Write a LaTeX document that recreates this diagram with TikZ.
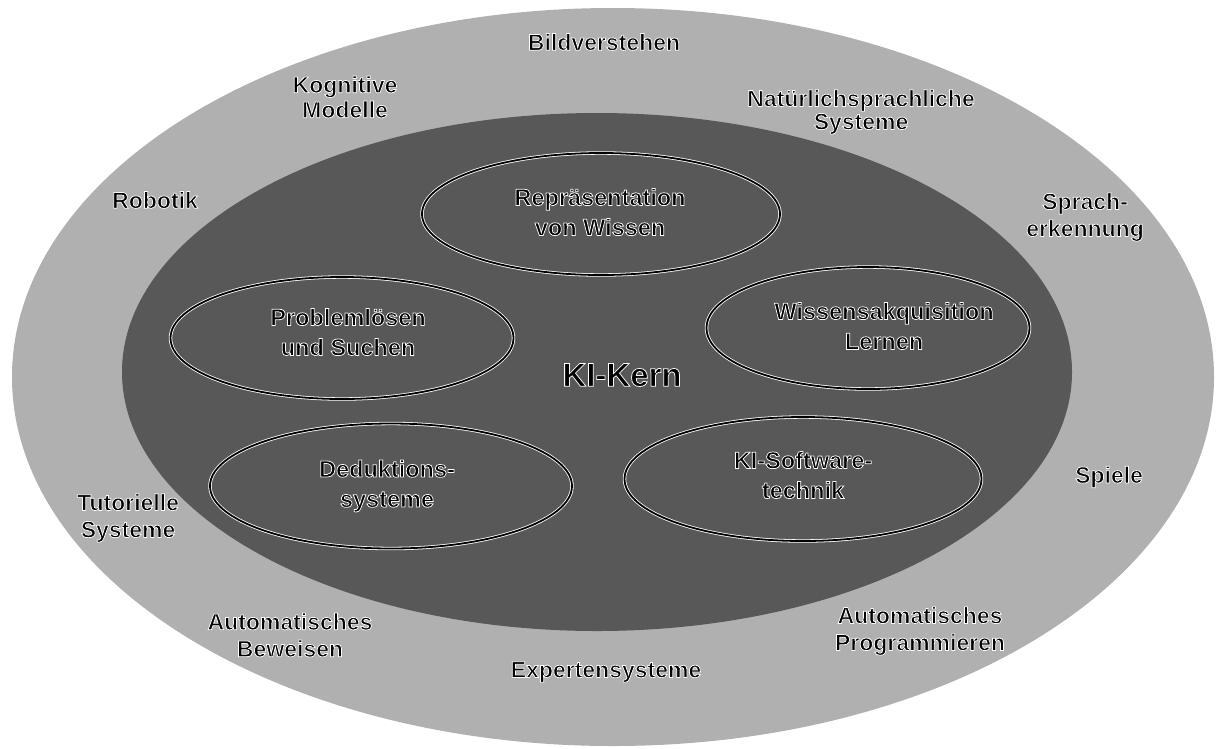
\documentclass[tikz,border=0pt]{standalone}
\usepackage{fontspec}
\setmainfont{Liberation Sans}[BoldFont={Liberation Sans Bold}]
\usetikzlibrary{shapes.geometric}
\definecolor{outergray}{RGB}{176,176,176}
\definecolor{innergray}{RGB}{88,88,88}
% black letters with a thin white halo (fill + white stroke), one copy of each text
\newcommand{\hl}[1]{\special{pdf:literal direct 2 Tr 1 1 1 RG 0.75 w}#1\special{pdf:literal direct 0 Tr 0 0 0 RG}}
\tikzset{
  area/.style={ellipse, inner sep=0pt, draw=none},
  subarea/.style={ellipse, inner sep=0pt, draw=white, double=black, double distance=1.8pt, line width=0.8pt},
  lbl/.style={font=\fontsize{23}{26}\selectfont\bfseries, align=center, inner sep=0pt, text=black},
  inlbl/.style={font=\fontsize{23.5}{30}\selectfont\bfseries, align=center, inner sep=0pt, text=black},
}
\begin{document}
\begin{tikzpicture}[x=1pt,y=-1pt]
\useasboundingbox (0,0) rectangle (1217,748);
\fill[white] (0,0) rectangle (1217,748);
% areas
\node[area, fill=outergray, minimum width=1202pt, minimum height=738pt] (outer) at (613,377) {};
\node[area, fill=innergray, minimum width=950pt, minimum height=518pt] (inner) at (597,372) {};
% sub areas
\node[subarea, minimum width=358pt, minimum height=122pt] (rep) at (601,214) {};
\node[subarea, minimum width=343pt, minimum height=122pt] (prob) at (342,338) {};
\node[subarea, minimum width=323pt, minimum height=122pt] (wiss) at (868,328) {};
\node[subarea, minimum width=362pt, minimum height=125pt] (ded) at (391,486) {};
\node[subarea, minimum width=357pt, minimum height=124pt] (kisw) at (803,479) {};
% inner labels
\node[inlbl] (repT) at (600,212) {\hl{Repräsentation}\\\hl{von Wissen}};
\node[inlbl] (probT) at (348,332) {\hl{Problemlösen}\\\hl{und Suchen}};
\node[inlbl] (wissT) at (884,326) {\hl{Wissensakquisition}\\\hl{Lernen}};
\node[inlbl] (dedT) at (387,486) {\hl{Deduktions-}\\\hl{systeme}};
\node[inlbl] (kiswT) at (803,475) {\hl{KI-Software-}\\\hl{technik}};
\node[inlbl, font=\fontsize{33}{38}\selectfont\bfseries] (kern) at (622,375) {\hl{KI-Kern}};
% outer labels
\node[lbl] (bild) at (604,42) {\hl{Bildverstehen}};
\node[lbl, font=\fontsize{23}{25}\selectfont\bfseries] (kog) at (345,97) {\hl{Kognitive}\\\hl{Modelle}};
\node[lbl] (robo) at (155,200) {\hl{Robotik}};
\node[lbl, font=\fontsize{23}{23}\selectfont\bfseries] (nat) at (861,112) {\hl{Natürlichsprachliche}\\\hl{Systeme}};
\node[lbl, font=\fontsize{23}{27}\selectfont\bfseries] (sprach) at (1085,217) {\hl{Sprach-}\\\hl{erkennung}};
\node[lbl] (spiele) at (1109,477) {\hl{Spiele}};
\node[lbl, font=\fontsize{23}{27}\selectfont\bfseries] (aprog) at (920,631) {\hl{Automatisches}\\\hl{Programmieren}};
\node[lbl] (exp) at (606,672) {\hl{Expertensysteme}};
\node[lbl, font=\fontsize{23}{27}\selectfont\bfseries] (abew) at (290,635) {\hl{Automatisches}\\\hl{Beweisen}};
\node[lbl, font=\fontsize{23}{27}\selectfont\bfseries] (tut) at (128,518) {\hl{Tutorielle}\\\hl{Systeme}};
\end{tikzpicture}
\end{document}
